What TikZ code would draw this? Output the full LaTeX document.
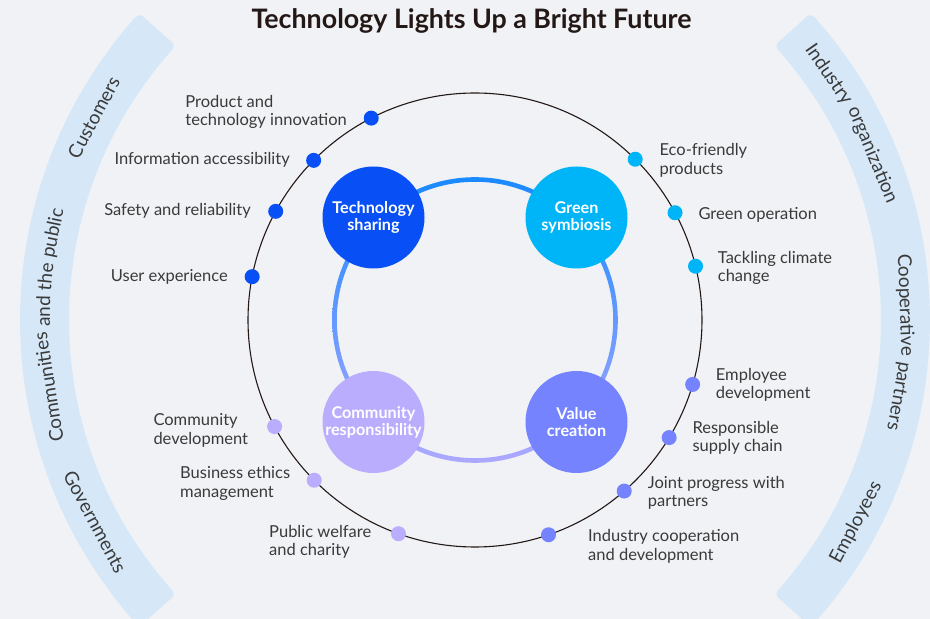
\documentclass[tikz,border=0pt]{standalone}
\usepackage{fontspec}
\setmainfont{Lato}
\definecolor{bg}{HTML}{F0F2F5}
\definecolor{bandc}{HTML}{D6E8F8}
\definecolor{txt}{HTML}{3A3A3A}
\definecolor{ttl}{HTML}{231815}
\definecolor{cBlue}{HTML}{0850F5}
\definecolor{cCyan}{HTML}{00B5F7}
\definecolor{cPurp}{HTML}{7584FE}
\definecolor{cLav}{HTML}{BBADFE}
\definecolor{ringTop}{HTML}{1A8AFF}
\definecolor{ringMid}{HTML}{4A92FC}
\definecolor{ringBot}{HTML}{ADA8FF}
\newcommand\arcfont{\fontsize{19}{19}\selectfont}
% measure the words of a phrase (outside the picture): #1 key, #2 comma list of words
\newcommand\arcmeasure[2]{%
  \gdef\arcpre{}%
  \foreach \aw [count=\ai] in {#2}{%
    \setbox0=\hbox{\arcfont\arcpre}\xdef\arctmpS{\the\wd0}%
    \setbox0=\hbox{\arcfont\aw}\xdef\arctmpW{\the\wd0}%
    \expandafter\xdef\csname arcS#1\ai\endcsname{\arctmpS}%
    \expandafter\xdef\csname arcW#1\ai\endcsname{\arctmpW}%
    \pgfmathsetmacro\arctmpT{\arctmpS+\arctmpW}%
    \expandafter\xdef\csname arcT#1\endcsname{\arctmpT}%
    \xdef\arcpre{\arcpre\aw\space}%
  }%
}
% set the measured words along an arc of centre C: #1 key, #2 centre angle,
% #3 baseline radius, #4 sign (1 = clockwise, tops outward; -1 = counter-clockwise, tops inward),
% #5 comma list of words
\newcommand\arcwords[5]{%
  \foreach \aw [count=\ai] in {#5}{%
    \edef\arcS{\csname arcS#1\ai\endcsname}%
    \edef\arcW{\csname arcW#1\ai\endcsname}%
    \edef\arcT{\csname arcT#1\endcsname}%
    \pgfmathsetmacro\arcang{#2 - #4*deg((\arcS + \arcW/2 - \arcT/2)/#3)}%
    \pgfmathsetmacro\arcrot{\arcang - #4*90}%
    \node[arcw, rotate=\arcrot, anchor=base] (#1\ai) at ([shift={(\arcang:#3)}]C) {\aw};%
  }%
}
\begin{document}
\arcmeasure{cu}{Customers}%
\arcmeasure{cp}{Communities,and,the,public}%
\arcmeasure{gv}{Governments}%
\arcmeasure{io}{Industry,organization}%
\arcmeasure{co}{Cooperative,partners}%
\arcmeasure{em}{Employees}%
\begin{tikzpicture}[x=1pt,y=1pt,
  lbl/.style={font=\fontsize{16.5}{18.5}\selectfont, text=txt, inner sep=0pt, align=left},
  dotc/.style={circle, fill=#1, minimum size=15pt, inner sep=0pt},
  hub/.style={circle, fill=#1, minimum size=102pt, inner sep=0pt, text=white,
    font=\bfseries\fontsize{16.2}{17}\selectfont, align=center},
  arcw/.style={font=\arcfont, text=txt, inner sep=0pt},
  bandfill/.style={fill=bandc, draw=bandc, line width=10pt, line join=round},
]
\useasboundingbox (0,0) rectangle (930,619);
\fill[bg] (0,0) rectangle (930,619);
\coordinate (C) at (475,299);

% outer bands
\filldraw[bandfill] ([shift={(138.2:411)}]C) arc[start angle=138.2, end angle=221.8, radius=411]
  -- ([shift={(221.8:450)}]C) arc[start angle=221.8, end angle=138.2, radius=450] -- cycle;
\filldraw[bandfill] ([shift={(41.8:411)}]C) arc[start angle=41.8, end angle=-41.8, radius=411]
  -- ([shift={(-41.8:450)}]C) arc[start angle=-41.8, end angle=41.8, radius=450] -- cycle;

% band texts
\arcwords{cu}{152}{425}{1}{Customers}
\arcwords{cp}{180.7}{425}{1}{Communities,and,the,public}
\arcwords{gv}{208}{437}{-1}{Governments}
\arcwords{io}{27.5}{425}{1}{Industry,organization}
\arcwords{co}{-3}{425}{1}{Cooperative,partners}
\arcwords{em}{-28}{437}{-1}{Employees}

% title
\node[font=\bfseries\fontsize{26.8}{30}\selectfont, text=ttl, anchor=base] (title) at (471.5,590.7)
  {Technology Lights Up a Bright Future};

% main circle
\node[circle, draw=ttl, line width=1.1pt, minimum size=454pt, inner sep=0pt] (main) at (C) {};

% gradient ring
\shade[even odd rule, top color=ringTop, middle color=ringMid, bottom color=ringBot]
  (C) circle (142.8) (C) circle (138.2);

% hubs
\node[hub=cBlue] (tech) at ([shift={(-101.5,102.5)}]C) {Technology\\sharing};
\node[hub=cCyan] (green) at ([shift={(101.5,102.5)}]C) {Green\\symbiosis};
\node[hub=cLav] (comm) at ([shift={(-101.5,-102)}]C) {Community\\responsibility};
\node[hub=cPurp] (value) at ([shift={(101.5,-102)}]C) {Value\\creation};

% dots
\node[dotc=cBlue] (d1) at ([shift={(117.2:227)}]C) {};
\node[dotc=cBlue] (d2) at ([shift={(135.3:227)}]C) {};
\node[dotc=cBlue] (d3) at ([shift={(151.4:227)}]C) {};
\node[dotc=cBlue] (d4) at ([shift={(169:227)}]C) {};
\node[dotc=cCyan] (d5) at ([shift={(45.1:227)}]C) {};
\node[dotc=cCyan] (d6) at ([shift={(28.2:227)}]C) {};
\node[dotc=cCyan] (d7) at ([shift={(13.7:227)}]C) {};
\node[dotc=cPurp] (d8) at ([shift={(-16.5:227)}]C) {};
\node[dotc=cPurp] (d9) at ([shift={(-31.2:227)}]C) {};
\node[dotc=cPurp] (d10) at ([shift={(-48.9:227)}]C) {};
\node[dotc=cPurp] (d11) at ([shift={(-71.1:227)}]C) {};
\node[dotc=cLav] (d12) at ([shift={(208:227)}]C) {};
\node[dotc=cLav] (d13) at ([shift={(224.9:227)}]C) {};
\node[dotc=cLav] (d14) at ([shift={(250.3:227)}]C) {};

% labels (base anchor = baseline of the last line)
\node[lbl, anchor=base east] (l1) at (347,493.3) {Product and\\technology innovation};
\node[lbl, anchor=base east] (l2) at (290,454) {Information accessibility};
\node[lbl, anchor=base east] (l3) at (251,403) {Safety and reliability};
\node[lbl, anchor=base east] (l4) at (228,337) {User experience};
\node[lbl, anchor=base west] (l5) at (659.3,444.7) {Eco-friendly\\products};
\node[lbl, anchor=base west] (l6) at (698.3,399) {Green operation};
\node[lbl, anchor=base west] (l7) at (717.7,337.3) {Tackling climate\\change};
\node[lbl, anchor=base west] (l8) at (715.7,220) {Employee\\development};
\node[lbl, anchor=base west] (l9) at (692.3,167.3) {Responsible\\supply chain};
\node[lbl, anchor=base west] (l10) at (647.7,112.3) {Joint progress with\\partners};
\node[lbl, anchor=base west] (l11) at (588,58.9) {Industry cooperation\\and development};
\node[lbl, anchor=base west] (l12) at (153.3,174.7) {Community\\development};
\node[lbl, anchor=base west] (l13) at (180,121.7) {Business ethics\\management};
\node[lbl, anchor=base west] (l14) at (269,63.3) {Public welfare\\and charity};
\end{tikzpicture}
\end{document}
